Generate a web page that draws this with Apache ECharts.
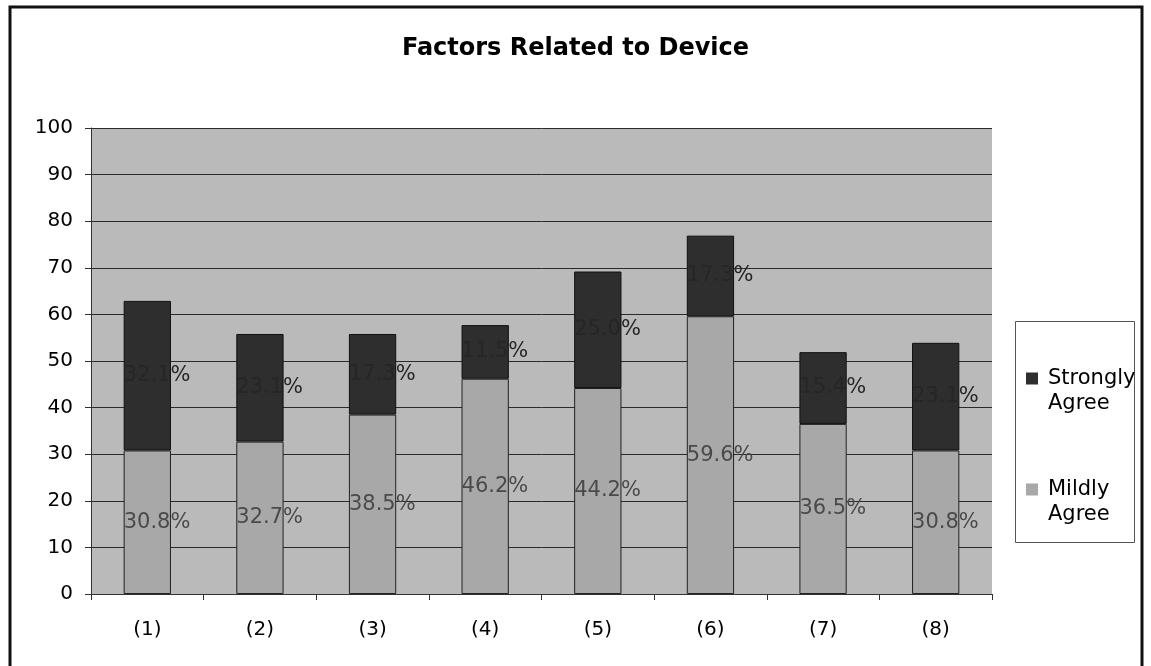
<!DOCTYPE html>
<html>
<head>
<meta charset="utf-8">
<script src="https://cdn.jsdelivr.net/npm/echarts@6/dist/echarts.min.js"></script>
<style>
html,body{margin:0;padding:0;background:#fff;}
#c{width:1151px;height:666px;}
</style>
</head>
<body>
<div id="c"></div>
<script>
const categories = ['(1)', '(2)', '(3)', '(4)', '(5)', '(6)', '(7)', '(8)'];
const mildlyAgree = [30.8, 32.7, 38.5, 46.2, 44.2, 59.6, 36.5, 30.8];
const stronglyAgree = [32.1, 23.1, 17.3, 11.5, 25.0, 17.3, 15.4, 23.1];
const yTicks = {min: 0, max: 100, interval: 10};
const seriesNames = ['Mildly Agree', 'Strongly Agree'];

const FONT = "'DejaVu Sans', 'Liberation Sans', Arial, sans-serif";
const chart = echarts.init(document.getElementById('c'), null, {renderer: 'canvas'});

const iconPath = 'path://M0,0h0.05v0.05h-0.05Z M0,6.5h12v12h-12Z M11.95,49.95h0.05v0.05h-0.05Z';

const option = {
  animation: false,
  backgroundColor: '#ffffff',
  textStyle: {fontFamily: FONT},
  title: {
    text: 'Factors Related to Device',
    left: 'center',
    top: 32,
    textStyle: {fontFamily: FONT, fontSize: 24, fontWeight: 'bold', color: '#000'}
  },
  graphic: [
    {type: 'rect', shape: {x: 10, y: 7, width: 1132, height: 670}, style: {fill: 'none', stroke: '#111', lineWidth: 3}, z: 100},
    {type: 'rect', shape: {x: 1015.5, y: 321.5, width: 119, height: 221}, style: {fill: '#fff', stroke: '#555', lineWidth: 1}, z: 0}
  ],
  legend: {
    data: ['Strongly Agree', 'Mildly Agree'],
    orient: 'vertical',
    left: 1026,
    top: 366,
    padding: 0,
    itemGap: 61,
    itemWidth: 12,
    itemHeight: 50,
    icon: iconPath,
    itemStyle: {borderWidth: 0},
    formatter: function (n) { return n.replace(' ', '\n'); },
    textStyle: {fontFamily: FONT, fontSize: 21, lineHeight: 25, color: '#000', padding: [0, 0, 0, 5]},
    selectedMode: false
  },
  grid: {
    left: 91, right: 159, top: 128, bottom: 72,
    show: true,
    backgroundColor: '#bababa',
    borderWidth: 0
  },
  xAxis: {
    type: 'category',
    data: categories,
    axisLine: {show: true, lineStyle: {color: '#333', width: 1}},
    axisTick: {show: true, length: 6, lineStyle: {color: '#333'}},
    axisLabel: {fontFamily: FONT, fontSize: 20, color: '#000', margin: 26}
  },
  yAxis: {
    type: 'value',
    min: yTicks.min, max: yTicks.max, interval: yTicks.interval,
    axisLine: {show: true, lineStyle: {color: '#333', width: 1}},
    axisTick: {show: true, length: 6, lineStyle: {color: '#333'}},
    axisLabel: {fontFamily: FONT, fontSize: 20, color: '#000', margin: 18},
    splitLine: {show: true, lineStyle: {color: '#2a2a2a', width: 1}}
  },
  series: [
    {
      name: seriesNames[0],
      type: 'bar',
      stack: 'total',
      barWidth: '42%',
      data: mildlyAgree,
      itemStyle: {color: '#a8a8a8', borderColor: '#222', borderWidth: 1},
      label: {
        show: true, position: 'insideLeft', distance: 0,
        formatter: function (p) { return p.value.toFixed(1) + '%'; },
        fontFamily: FONT, fontSize: 21, color: '#4a4a4a'
      }
    },
    {
      name: seriesNames[1],
      type: 'bar',
      stack: 'total',
      barWidth: '42%',
      data: stronglyAgree,
      itemStyle: {color: '#2e2e2e', borderColor: '#111', borderWidth: 1},
      label: {
        show: true, position: 'insideLeft', distance: 0,
        formatter: function (p) { return p.value.toFixed(1) + '%'; },
        fontFamily: FONT, fontSize: 21, color: '#262626'
      }
    }
  ]
};
chart.setOption(option);
</script>
</body>
</html>
